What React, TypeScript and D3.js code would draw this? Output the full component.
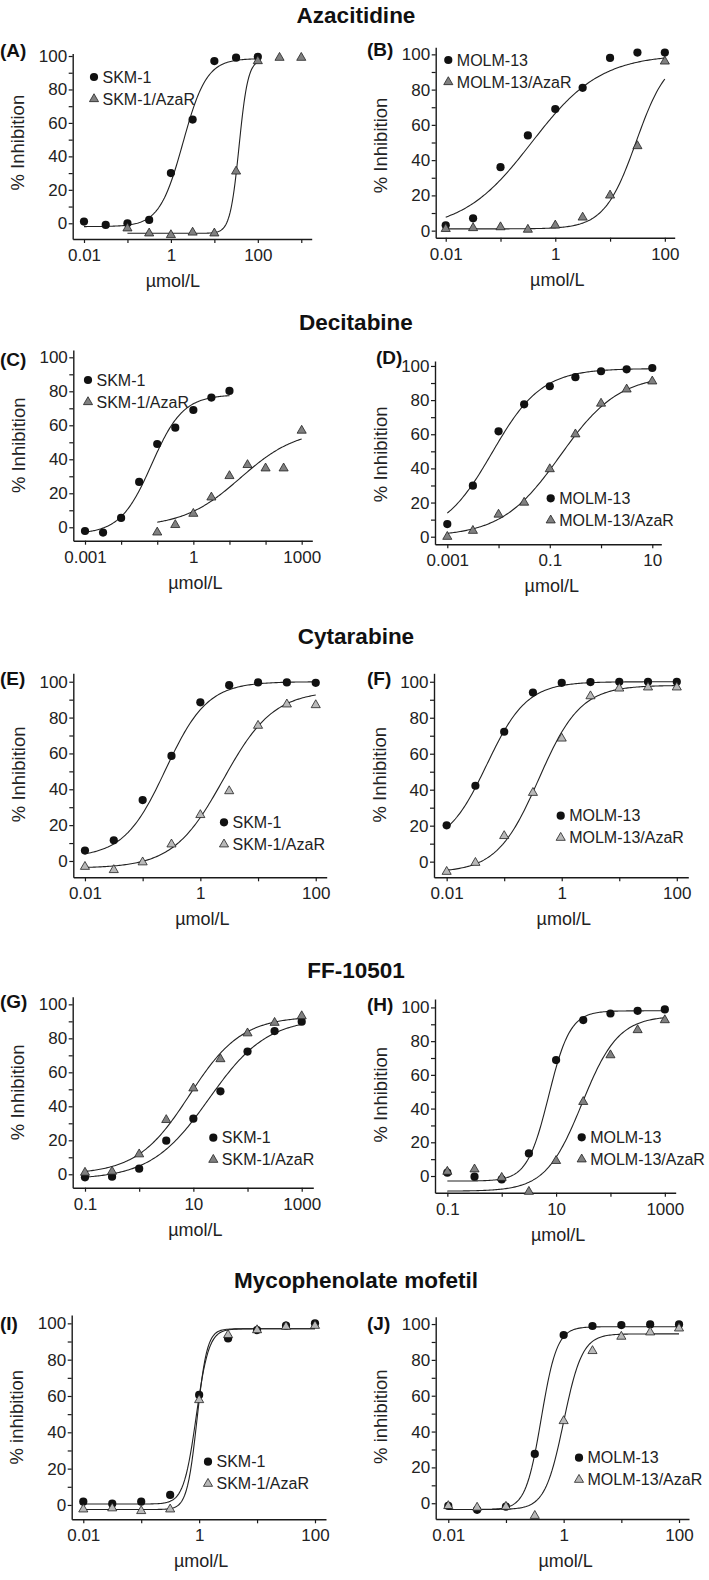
import React, { useEffect, useRef } from "react";
import * as d3 from "d3";

// half-log dilution series, µmol/L
const doses01to100 = [0.01, 0.0316, 0.1, 0.316, 1, 3.16, 10, 31.6, 100];
const doses1to1000 = [0.1, 0.316, 1, 3.16, 10, 31.6, 100, 316, 1000];
const doses001to10 = [0.001, 0.00316, 0.01, 0.0316, 0.1, 0.316, 1, 3.16, 10];

const drugTitles = ["Azacitidine", "Decitabine", "Cytarabine", "FF-10501", "Mycophenolate mofetil"];
const panelLetters = ["(A)", "(B)", "(C)", "(D)", "(E)", "(F)", "(G)", "(H)", "(I)", "(J)"];
const parentLines = ["SKM-1", "MOLM-13"];
const resistantLines = ["SKM-1/AzaR", "MOLM-13/AzaR"];

// % inhibition
const azaSkm = [1, -1, 0, 2, 30, 62, 97, 99, 99.5];
const azaSkmR = [-3, -6, -7, -5.5, -6, 31, 97, 99, 99];
const azaMolm = [3, 7, 36, 54, 69, 81, 98, 101, 101];
const azaMolmR = [1, 1.5, 2, 0.6, 3, 7.5, 20, 48, 96];
const decSkm = [-2.2, -3.1, 5.5, 26.7, 49, 58.6, 69, 76.3, 80.2];
const decSkmR = [-3, 1.4, 8, 17.6, 30.2, 36.7, 34.7, 34.7, 56.9];
const decMolm = [7.4, 29.9, 61.7, 77.5, 88.1, 93.4, 96.9, 98, 98.8];
const decMolmR = [0, 3.5, 13, 20, 39.6, 60, 78, 86.3, 91];
const cytSkm = [5.8, 11.5, 34, 58.6, 88.5, 98.1, 99.6, 99.6, 99.4];
const cytSkmR = [-3.2, -5, -0.7, 9.3, 25.7, 39, 75.5, 87.4, 87];
const cytMolm = [20.2, 42.2, 72.2, 94, 99.4, 99.8, 100, 100, 100];
const cytMolmR = [-5.6, -0.6, 14.3, 38.3, 68.5, 92, 96.3, 96.9, 96.9];
const ffSkm = [-1.8, -1.4, 3.3, 19.8, 32.7, 48.8, 72.2, 84.3, 89.8];
const ffSkmR = [1, 1.6, 11.8, 32, 50.6, 67.8, 83, 89.2, 93.1];
const ffMolm = [2, -0.4, -2, 13.4, 68.8, 92.5, 96.4, 98, 98.8];
const ffMolmR = [2.6, 4, -1, -9.3, 9, 44, 71.7, 86.6, 92.5];
const mmfSkm = [1.8, 0.7, 1.8, 5.5, 60.6, 91.7, 96.3, 98.7, 100];
const mmfSkmR = [-2.4, -1.8, -3.3, -2.4, 57.8, 93.6, 96.3, 98.2, 98.7];
const mmfMolm = [-1.5, -3.7, -1.9, 27.5, 93.9, 98.9, 99.4, 99.8, 99.8];
const mmfMolmR = [-1.5, -2.4, -1.9, -7, 45.9, 85, 93, 95.4, 97.6];

// fitted curves: [bottom, top, EC50, hill]
const fits = [
  [[-2, 98.5, 1.9, 1.6], [-6, 98, 37, 4.2]],
  [[0, 100, 0.37, 0.69], [1, 100, 30, 1.5]],
  [[-4, 78, 0.07, 1.0], [0, 58, 20, 0.55]],
  [[0, 98.5, 0.0075, 0.9], [0, 95, 0.16, 0.76]],
  [[2, 100, 0.25, 1.2], [-4, 95, 2.5, 1.0]],
  [[8, 100, 0.05, 1.25], [-6, 98, 0.4, 1.2]],
  [[-3, 92, 19.5, 0.81], [0, 93, 8.45, 0.9]],
  [[-3, 98, 7.3, 2.2], [-9, 95, 30, 1.3]],
  [[0.5, 97, 0.89, 4], [-2.5, 97, 0.92, 5]],
  [[-3.5, 98.5, 0.41, 3.2], [-3.5, 94.5, 1.0, 2.7]],
];

const series = [
  [doses01to100, azaSkm, doses1to1000, azaSkmR],
  [doses01to100, azaMolm, doses01to100, azaMolmR],
  [doses001to10, decSkm, doses1to1000, decSkmR],
  [doses001to10, decMolm, doses001to10, decMolmR],
  [doses01to100, cytSkm, doses01to100, cytSkmR],
  [doses01to100, cytMolm, doses01to100, cytMolmR],
  [doses1to1000, ffSkm, doses1to1000, ffSkmR],
  [doses1to1000, ffMolm, doses1to1000, ffMolmR],
  [doses01to100, mmfSkm, doses01to100, mmfSkmR],
  [doses01to100, mmfMolm, doses01to100, mmfMolmR],
];

// curve extents [from, to] for each series
const curveRanges = [
  [[0.01, 100], [0.1, 100]],
  [[0.01, 100], [0.01, 100]],
  [[0.001, 10], [0.1, 1000]],
  [[0.001, 10], [0.001, 10]],
  [[0.01, 100], [0.01, 100]],
  [[0.01, 100], [0.01, 100]],
  [[0.1, 1000], [0.1, 1000]],
  [[0.1, 1000], [0.1, 1000]],
  [[0.01, 100], [0.01, 100]],
  [[0.01, 100], [0.01, 100]],
];

const xTicks = [
  [0.01, 0.1, 1, 10, 100, 1000],
  [0.01, 0.1, 1, 10, 100],
  [0.001, 0.01, 0.1, 1, 10, 100, 1000],
  [0.001, 0.01, 0.1, 1, 10],
  [0.01, 0.1, 1, 10, 100],
  [0.01, 0.1, 1, 10, 100],
  [0.1, 1, 10, 100, 1000],
  [0.1, 1, 10, 100, 1000],
  [0.01, 0.1, 1, 10, 100],
  [0.01, 0.1, 1, 10, 100],
];
const xTickLabels = [
  [0.01, 1, 100],
  [0.01, 1, 100],
  [0.001, 1, 1000],
  [0.001, 0.1, 10],
  [0.01, 1, 100],
  [0.01, 1, 100],
  [0.1, 10, 1000],
  [0.1, 10, 1000],
  [0.01, 1, 100],
  [0.01, 1, 100],
];
const yTicks = [0, 10, 20, 30, 40, 50, 60, 70, 80, 90, 100];

// layout: plot box [left, right, bottom, top], log10 x extent, y extent
const layout = [
  { box: [72.7, 311.7, 239, 53.5], xl: [-2.26, 3.24], yd: [-9.4, 101.5], tag: [0, 57], leg: [94, 77] },
  { box: [435.7, 674.7, 237.7, 47.3], xl: [-2.183, 2.18], yd: [-4, 104], tag: [367, 56], leg: [448.3, 60] },
  { box: [73.3, 312.3, 540.7, 350], xl: [-3.324, 3.294], yd: [-7.9, 104.3], tag: [0, 366], leg: [88, 380] },
  { box: [435, 661.3, 544.3, 361], xl: [-3.24, 1.176], yd: [-4.45, 102.9], tag: [376, 364], leg: [550.7, 498.3] },
  { box: [73.3, 326.7, 877.3, 673.3], xl: [-2.202, 2.19], yd: [-9.1, 104.7], tag: [0, 685], leg: [224, 822.3] },
  { box: [434, 688.3, 877.3, 673.3], xl: [-2.22, 2.2], yd: [-8.7, 104.7], tag: [367, 685], leg: [560.7, 815.7] },
  { box: [72.7, 313.3, 1187.7, 996.7], xl: [-1.227, 3.214], yd: [-7.9, 104.5], tag: [0, 1008], leg: [213.3, 1137.7] },
  { box: [435, 675.7, 1192.7, 999], xl: [-1.227, 3.2], yd: [-9.9, 105], tag: [367, 1011], leg: [581.7, 1137.3] },
  { box: [71.7, 326, 1519.3, 1315], xl: [-2.2, 2.19], yd: [-7.9, 104.6], tag: [0, 1330], leg: [208, 1461.7] },
  { box: [435.7, 689, 1519, 1316.7], xl: [-2.218, 2.173], yd: [-8.8, 104.1], tag: [367, 1330], leg: [579, 1457.7] },
];
const titleBaselines = [23, 330, 644, 978, 1288];
const lightTriangles = [false, false, false, false, true, true, false, false, true, true];

const FONT = "'Liberation Sans', Arial, Helvetica, sans-serif";
const INK = "#1a1a1a";

const logistic = (c, [bottom, top, ec50, hill]) =>
  bottom + (top - bottom) / (1 + Math.pow(ec50 / c, hill));

const App = () => {
  const svgRef = useRef(null);

  useEffect(() => {
    const svg = d3.select(svgRef.current);
    svg.selectAll("*").remove();

    svg
      .selectAll(".drug-title")
      .data(drugTitles)
      .enter()
      .append("text")
      .attr("class", "drug-title")
      .attr("x", 356)
      .attr("y", (d, i) => titleBaselines[i])
      .attr("text-anchor", "middle")
      .attr("font-family", FONT)
      .attr("font-weight", "bold")
      .attr("font-size", 22.5)
      .attr("fill", "#111")
      .text((d) => d);

    layout.forEach((p, i) => {
      const [left, right, bottom, top] = p.box;
      const x = d3
        .scaleLog()
        .domain([Math.pow(10, p.xl[0]), Math.pow(10, p.xl[1])])
        .range([left, right]);
      const y = d3.scaleLinear().domain(p.yd).range([bottom, top]);
      const g = svg.append("g");
      const row = Math.floor(i / 2);
      const col = i % 2;
      const mainLabel = row === 4 ? "% inhibition" : "% Inhibition";

      // axes
      const labels = xTickLabels[i];
      const xAxis = d3
        .axisBottom(x)
        .tickValues(xTicks[i])
        .tickSize(4)
        .tickSizeOuter(0)
        .tickPadding(6)
        .tickFormat((d) => (labels.includes(d) ? String(d) : ""));
      const yAxis = d3
        .axisLeft(y)
        .tickValues(yTicks)
        .tickSize(4)
        .tickSizeOuter(0)
        .tickPadding(1.5)
        .tickFormat((d) => (d % 20 === 0 ? String(d) : ""));

      [
        g.append("g").attr("transform", `translate(0,${bottom})`).call(xAxis),
        g.append("g").attr("transform", `translate(${left},0)`).call(yAxis),
      ].forEach((ax) => {
        ax.attr("font-family", FONT).attr("font-size", 17);
        ax.select(".domain").attr("stroke", INK).attr("stroke-width", 1.4);
        ax.selectAll(".tick line").attr("stroke", INK).attr("stroke-width", 1.2);
        ax.selectAll(".tick text").attr("fill", "#222");
      });

      // axis titles
      const midLabel = labels[Math.floor(labels.length / 2)];
      g.append("text")
        .attr("x", x(midLabel) + 2)
        .attr("y", bottom + 48)
        .attr("text-anchor", "middle")
        .attr("font-family", FONT)
        .attr("font-size", 18)
        .attr("fill", "#222")
        .text("µmol/L");
      g.append("text")
        .attr("transform", `translate(${left - 48.5},${y(50) + 3}) rotate(-90)`)
        .attr("text-anchor", "middle")
        .attr("font-family", FONT)
        .attr("font-size", 18.5)
        .attr("fill", "#222")
        .text(mainLabel);

      g.append("text")
        .attr("x", p.tag[0])
        .attr("y", p.tag[1])
        .attr("font-family", FONT)
        .attr("font-weight", "bold")
        .attr("font-size", 19)
        .attr("fill", "#111")
        .text(panelLetters[i]);

      // fitted curves
      const line = d3
        .line()
        .x((d) => x(d[0]))
        .y((d) => y(d[1]));
      fits[i].forEach((fit, k) => {
        const [from, to] = curveRanges[i][k];
        const lo = Math.log10(from);
        const hi = Math.log10(to);
        const pts = d3.range(0, 161).map((j) => {
          const c = Math.pow(10, lo + ((hi - lo) * j) / 160);
          return [c, logistic(c, fit)];
        });
        g.append("path")
          .attr("d", line(pts))
          .attr("fill", "none")
          .attr("stroke", "#222")
          .attr("stroke-width", 1.1);
      });

      // markers
      const [cx, cy, tx, ty] = series[i];
      const triFill = lightTriangles[i] ? "#b9b9b9" : "#808080";
      const tri = d3.symbol().type(d3.symbolTriangle).size(36);

      g.selectAll(".dot")
        .data(cy)
        .enter()
        .append("circle")
        .attr("class", "dot")
        .attr("cx", (d, j) => x(cx[j]))
        .attr("cy", (d) => y(d))
        .attr("r", 4.1)
        .attr("fill", "#111");

      g.selectAll(".tri")
        .data(ty)
        .enter()
        .append("path")
        .attr("class", "tri")
        .attr("d", tri)
        .attr("transform", (d, j) => `translate(${x(tx[j])},${y(d)})`)
        .attr("fill", triFill)
        .attr("stroke", "#222")
        .attr("stroke-width", 0.8);

      // legend
      const [lx, ly] = p.leg;
      const leg = g.append("g").attr("font-family", FONT).attr("font-size", 16).attr("fill", "#222");
      leg.append("circle").attr("cx", lx).attr("cy", ly).attr("r", 4.1).attr("fill", "#111");
      leg.append("text").attr("x", lx + 8.5).attr("y", ly + 5.7).text(parentLines[col]);
      leg
        .append("path")
        .attr("d", tri)
        .attr("transform", `translate(${lx},${ly + 22})`)
        .attr("fill", triFill)
        .attr("stroke", "#222")
        .attr("stroke-width", 0.8);
      leg.append("text").attr("x", lx + 8.5).attr("y", ly + 27.7).text(resistantLines[col]);
    });
  }, []);

  return (
    <svg
      ref={svgRef}
      width={709}
      height={1580}
      style={{ position: "absolute", left: 0, top: 0, background: "#fff" }}
    ></svg>
  );
};

export default App;
